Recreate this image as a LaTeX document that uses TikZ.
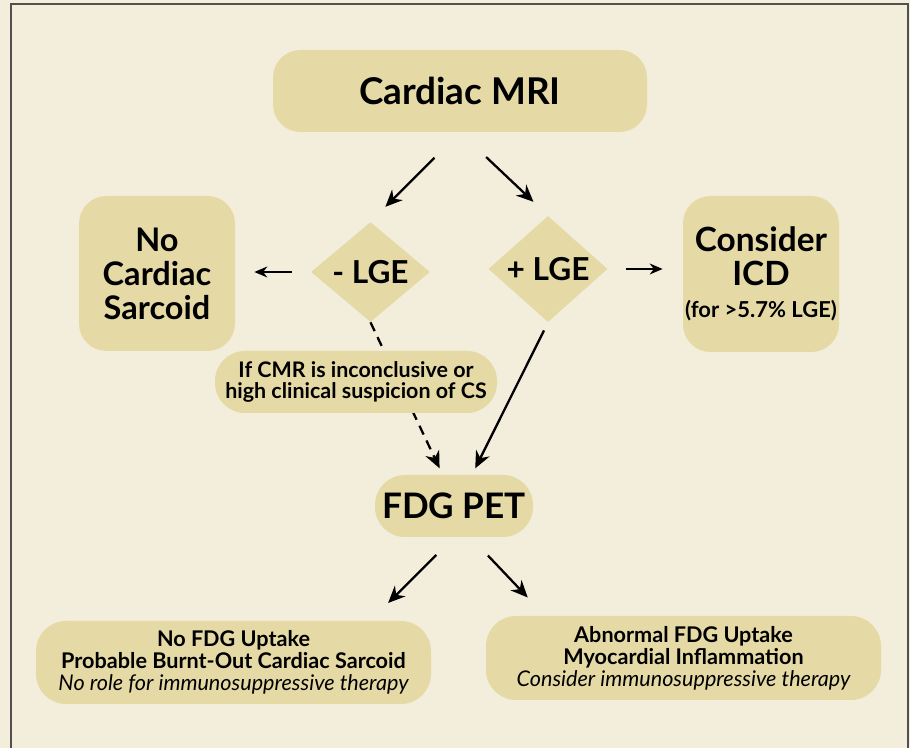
\documentclass[tikz,border=0pt]{standalone}
\usepackage{fontspec}
\setmainfont{Lato}
\usetikzlibrary{arrows.meta,shapes.geometric}

\definecolor{paper}{HTML}{F3EEDC}
\definecolor{sand}{HTML}{E5DAA6}
\definecolor{framegray}{HTML}{505050}

\begin{document}
\begin{tikzpicture}[
  box/.style={fill=sand, rounded corners=0.55cm, align=center, inner sep=0pt},
  pill/.style={fill=sand, rounded corners=0.6cm, align=center, inner sep=0pt},
  lge/.style={fill=sand, diamond, minimum width=2.38cm, minimum height=2cm, inner sep=0pt,
    font=\bfseries\fontsize{18}{21}\selectfont},
  arr/.style={-{Stealth[length=3.4mm,width=3mm]}, line width=1.3pt},
  small arr/.style={-{Stealth[length=2.6mm,width=2.2mm]}, line width=0.9pt},
]

% background and frame
\fill[paper] (0,0) rectangle (18.2,14.96);
\draw[framegray, line width=1.1pt] (0.22,0) -- (0.22,14.88) -- (18.16,14.88) -- (18.16,0);

% top box
\node[box, minimum width=7.48cm, minimum height=1.64cm,
  font=\bfseries\fontsize{21}{24}\selectfont] (mri) at (9.2,13.14) {Cardiac MRI};

% the two LGE outcomes
\node[lge] (neg) at (7.41,9.52) {- LGE};
\node[lge] (pos) at (10.96,9.58) {+ LGE};

% side boxes
\node[box, minimum width=3.12cm, minimum height=3.1cm,
  font=\bfseries\fontsize{18.5}{19.3}\selectfont] (nocs) at (3.14,9.49) {No\\Cardiac\\Sarcoid};
\node[box, minimum width=3.12cm, minimum height=3.12cm,
  font=\bfseries\fontsize{19}{19.3}\selectfont] (icd) at (15.22,9.48)
  {Consider\\ICD\\[-1pt]{\fontsize{12.5}{14}\selectfont (for >5.7\% LGE)}};

% FDG PET
\node[pill, minimum width=3.16cm, minimum height=1.24cm,
  font=\bfseries\fontsize{20}{22}\selectfont] (fdg) at (9.08,4.84) {FDG PET};

% arrows from MRI
\draw[arr, shorten <=0.72cm, shorten >=0.42cm] (mri.south) -- (neg.north);
\draw[arr, shorten <=0.72cm, shorten >=0.4cm] (mri.south) -- (pos.north);

% sideways arrows
\draw[small arr, shorten <=0.38cm, shorten >=0.38cm] (neg.west) -- (neg.west -| nocs.east);
\draw[small arr, shorten <=0.36cm, shorten >=0.4cm] (pos.east) -- (pos.east -| icd.west);

% dashed path goes under the note
\draw[arr, dash pattern=on 5.5pt off 3.8pt, shorten >=0.14cm] (neg.south) -- (fdg.110);
\draw[arr, shorten <=0.18cm, shorten >=0.14cm] (pos.south) -- (fdg.60);

% note
\node[pill, minimum width=5.64cm, minimum height=1.24cm,
  font=\bfseries\fontsize{12.2}{12.2}\selectfont] (note) at (7.12,7.32)
  {If CMR is inconclusive or\\high clinical suspicion of CS};

% result boxes
\node[box, rounded corners=0.6cm, minimum width=7.9cm, minimum height=1.66cm,
  font=\fontsize{12.3}{12.6}\selectfont] (noup) at (4.67,1.71)
  {\bfseries No FDG Uptake\\\bfseries Probable Burnt-Out Cardiac Sarcoid\\\itshape No role for immunosuppressive therapy};
\node[box, rounded corners=0.6cm, minimum width=7.9cm, minimum height=1.68cm,
  font=\fontsize{12.3}{12.6}\selectfont] (abup) at (13.67,1.8)
  {\bfseries Abnormal FDG Uptake\\\bfseries Myocardial Inflammation\\\itshape Consider immunosuppressive therapy};

% arrows from FDG PET
\draw[arr, shorten <=0.5cm, shorten >=0.5cm] (fdg.south) -- (noup.17);
\draw[arr, shorten <=0.5cm, shorten >=0.5cm] (fdg.-62) -- (abup.163);

\end{tikzpicture}
\end{document}
